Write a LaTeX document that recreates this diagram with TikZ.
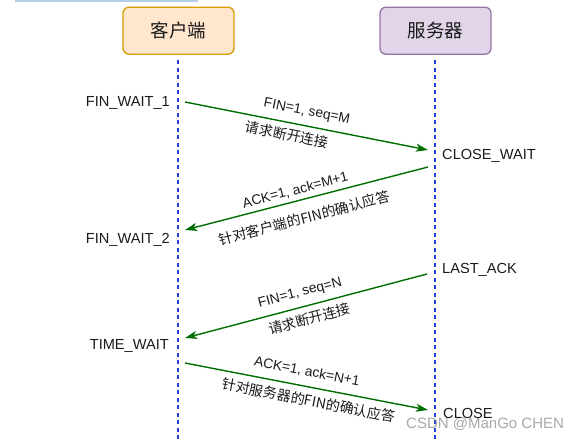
\documentclass[tikz,border=0pt]{standalone}
\usepackage{fontspec}
\setmainfont{Liberation Sans}
\newfontfamily\cjk{Noto Sans CJK SC}
\usetikzlibrary{arrows.meta}
\definecolor{clientfill}{HTML}{FFE6CC}
\definecolor{clientline}{HTML}{D79B00}
\definecolor{serverfill}{HTML}{E1D5E7}
\definecolor{serverline}{HTML}{9673A6}
\definecolor{lifeblue}{HTML}{2340D8}
\definecolor{msggreen}{HTML}{006E00}
\definecolor{txt}{HTML}{1A1A1A}
\definecolor{topbar}{HTML}{B4CDEA}
\begin{document}
\begin{tikzpicture}[x=1pt,y=-1pt,
  actor/.style={draw, line width=1.3pt, rounded corners=6pt, minimum width=111pt, minimum height=47pt, inner sep=0pt, font=\cjk\fontsize{18.5}{20}\selectfont, text=txt},
  lifeline/.style={draw=lifeblue, line width=1.3pt, dash pattern=on 4pt off 3.5pt},
  msg/.style={draw=msggreen, line width=1.4pt, -{Stealth[length=12pt,width=8pt,inset=3pt]}},
  state/.style={font=\fontsize{14.6}{16}\selectfont, text=txt, inner sep=0pt},
  lab/.style={font=\fontsize{13.8}{15}\selectfont, text=txt, sloped, inner sep=0pt},
  clab/.style={font=\cjk\fontsize{14}{16}\selectfont, text=txt, sloped, inner sep=0pt}]
\useasboundingbox (0,0) rectangle (577,439);
\fill[topbar] (15,0) rectangle (198,1.7);

\node[actor, fill=clientfill, draw=clientline] (client) at (178.5,30.7) {客户端};
\node[actor, fill=serverfill, draw=serverline] (server) at (435.5,30.7) {服务器};

\coordinate (cl) at (178,60);
\coordinate (clb) at (178,439);
\coordinate (sl) at (435,60);
\coordinate (slb) at (435,439);
\draw[lifeline] (cl) -- (clb);
\draw[lifeline] (sl) -- (slb);

% message anchor points
\coordinate (m1a) at (185,102);
\coordinate (m1b) at (428,150);
\coordinate (m2a) at (428,167);
\coordinate (m2b) at (185,230);
\coordinate (m3a) at (427,274);
\coordinate (m3b) at (185,338);
\coordinate (m4a) at (185,363);
\coordinate (m4b) at (428,410);

\draw[msg] (m1a) -- (m1b)
  node[lab, pos=0.49, above=7pt] (l1a) {FIN=1, seq=M}
  node[clab, pos=0.43, below=5pt] (l1b) {请求断开连接};
\draw[msg] (m2a) -- (m2b)
  node[lab, pos=0.535, above=4pt] (l2a) {ACK=1, ack=M+1}
  node[clab, pos=0.527, below=11pt] (l2b) {针对客户端的FIN的确认应答};
\draw[msg] (m3a) -- (m3b)
  node[lab, pos=0.51, above=7pt] (l3a) {FIN=1, seq=N}
  node[clab, pos=0.50, below=6pt] (l3b) {请求断开连接};
\draw[msg] (m4a) -- (m4b)
  node[lab, pos=0.49, above=8pt] (l4a) {ACK=1, ack=N+1}
  node[clab, pos=0.52, below=6pt] (l4b) {针对服务器的FIN的确认应答};

\node[state, anchor=east] (fw1) at (170,103) {FIN\_WAIT\_1};
\node[state, anchor=east] (fw2) at (170,240) {FIN\_WAIT\_2};
\node[state, anchor=east] (tw) at (169,346) {TIME\_WAIT};
\node[state, anchor=west] (cw) at (442,156) {CLOSE\_WAIT};
\node[state, anchor=west] (la) at (442,270) {LAST\_ACK};
\node[font=\fontsize{15}{17}\selectfont, text=gray!80, opacity=0.85, anchor=west, inner sep=0pt] (wm) at (406,424) {CSDN @ManGo CHEN};
\node[state, anchor=west] (cs) at (443,413) {CLOSE};
\end{tikzpicture}
\end{document}
